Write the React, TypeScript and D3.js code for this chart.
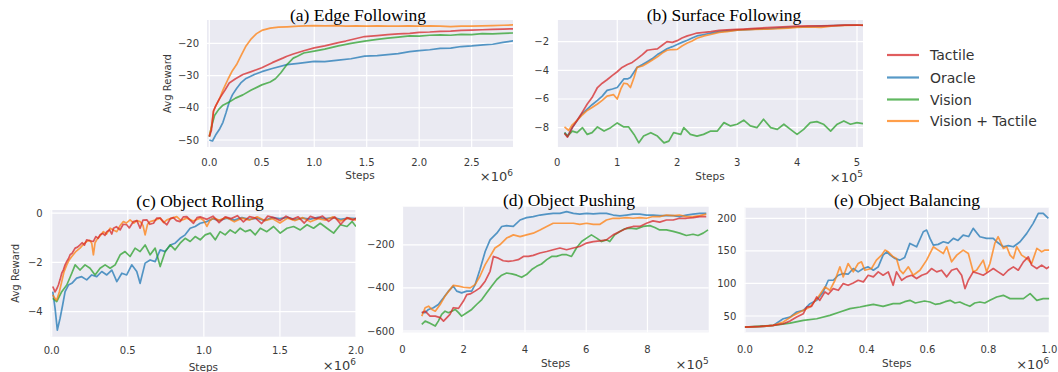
import * as d3 from 'd3';

type Pt = [number, number];

// ---- legend / series ----
const seriesNames = ['Tactile', 'Oracle', 'Vision', 'Vision + Tactile'];
const seriesColors = ['#d62728', '#1f77b4', '#2ca02c', '#ff7f0e'];

// ---- (a) Edge Following, x in 1e6 steps ----
const edgeTactile: Pt[] = [[0,-49],[0.02,-47],[0.04,-41],[0.06,-39.5],[0.1,-37],[0.15,-34.5],[0.19,-32.3],[0.25,-31],[0.32,-29.7],[0.4,-28.8],[0.5,-27.6],[0.6,-26],[0.7,-24.6],[0.74,-24],[0.8,-23.3],[0.9,-22.3],[1.0,-21.4],[1.1,-20.8],[1.23,-19.8],[1.3,-19.3],[1.4,-18.5],[1.48,-17.9],[1.6,-17.6],[1.7,-17.3],[1.8,-17.1],[1.91,-16.9],[2.0,-16.6],[2.1,-16.5],[2.2,-16.3],[2.3,-16.2],[2.4,-16.0],[2.5,-15.9],[2.6,-15.8],[2.7,-15.7],[2.8,-15.6],[2.9,-15.5]];
const edgeOracle: Pt[] = [[0,-50],[0.03,-50.3],[0.065,-48.2],[0.1,-46.5],[0.13,-44.5],[0.16,-41.5],[0.19,-38.2],[0.22,-36],[0.26,-34],[0.3,-32.3],[0.35,-30.9],[0.42,-29.8],[0.5,-28.8],[0.6,-27.8],[0.74,-26.6],[0.85,-26.2],[1.0,-25.6],[1.1,-25.7],[1.23,-25.2],[1.35,-24.8],[1.48,-24],[1.6,-23.8],[1.7,-23.5],[1.8,-23.2],[1.91,-22.6],[2.0,-22.3],[2.1,-22.0],[2.2,-21.6],[2.3,-21.5],[2.4,-21.0],[2.5,-20.8],[2.61,-20.5],[2.7,-20.3],[2.8,-19.7],[2.9,-19.2]];
const edgeVision: Pt[] = [[0,-49],[0.02,-46],[0.05,-42.4],[0.09,-40.5],[0.13,-39.2],[0.19,-38.2],[0.25,-37],[0.32,-36],[0.4,-34.5],[0.5,-32.9],[0.58,-32],[0.63,-31],[0.68,-29.2],[0.74,-26.6],[0.8,-24.6],[0.84,-24],[0.9,-23],[1.0,-22.4],[1.1,-21.8],[1.23,-20.8],[1.35,-20],[1.48,-19.3],[1.6,-18.8],[1.7,-18.4],[1.8,-18.1],[1.91,-17.7],[2.0,-17.8],[2.1,-17.5],[2.2,-17.4],[2.3,-17.5],[2.4,-17.2],[2.5,-17.3],[2.6,-17.0],[2.7,-17.1],[2.8,-16.9],[2.9,-16.8]];
const edgeVisionTactile: Pt[] = [[0,-48.8],[0.02,-46],[0.04,-41],[0.065,-39.2],[0.1,-37],[0.13,-34.5],[0.18,-31],[0.22,-28.5],[0.26,-26.6],[0.3,-24],[0.35,-20.8],[0.4,-18.6],[0.45,-17],[0.5,-16],[0.58,-15.3],[0.66,-15],[0.74,-14.9],[0.85,-14.7],[1.0,-14.5],[1.1,-14.6],[1.2,-14.5],[1.3,-14.7],[1.4,-14.6],[1.5,-14.7],[1.6,-14.6],[1.7,-14.7],[1.8,-14.7],[1.9,-14.6],[2.0,-14.7],[2.1,-14.6],[2.2,-14.7],[2.3,-14.8],[2.4,-14.7],[2.5,-14.7],[2.6,-14.6],[2.7,-14.5],[2.8,-14.4],[2.9,-14.3]];

// ---- (b) Surface Following, x in 1e5 steps ----
const surfTactile: Pt[] = [[0.12,-8.4],[0.17,-8.66],[0.25,-8.0],[0.33,-7.5],[0.42,-6.9],[0.5,-6.35],[0.58,-5.9],[0.67,-5.2],[0.75,-4.9],[0.83,-4.66],[0.92,-4.35],[1.0,-4.1],[1.08,-3.8],[1.17,-3.6],[1.25,-3.45],[1.33,-3.2],[1.42,-2.9],[1.5,-2.6],[1.58,-2.55],[1.67,-2.5],[1.75,-2.25],[1.83,-2.0],[1.92,-2.05],[2.0,-1.93],[2.08,-1.75],[2.17,-1.6],[2.25,-1.5],[2.33,-1.4],[2.45,-1.35],[2.56,-1.3],[2.7,-1.22],[2.83,-1.18],[3.0,-1.15],[3.1,-1.13],[3.3,-1.08],[3.5,-1.02],[3.67,-0.99],[3.85,-0.95],[4.0,-0.92],[4.2,-0.9],[4.4,-0.9],[4.6,-0.88],[4.8,-0.85],[5.0,-0.84],[5.1,-0.86]];
const surfOracle: Pt[] = [[0.12,-8.35],[0.17,-8.6],[0.25,-8.0],[0.33,-7.5],[0.42,-7.0],[0.5,-6.7],[0.58,-6.4],[0.67,-6.1],[0.75,-5.8],[0.83,-5.4],[0.92,-5.3],[1.0,-5.2],[1.11,-4.6],[1.17,-4.6],[1.22,-4.5],[1.33,-3.8],[1.42,-3.6],[1.5,-3.4],[1.58,-3.2],[1.67,-2.9],[1.75,-2.7],[1.83,-2.5],[1.92,-2.35],[2.0,-2.2],[2.08,-2.05],[2.17,-1.9],[2.25,-1.75],[2.33,-1.6],[2.45,-1.5],[2.56,-1.4],[2.7,-1.3],[2.83,-1.25],[3.0,-1.2],[3.1,-1.18],[3.3,-1.12],[3.5,-1.1],[3.67,-1.06],[3.85,-1.0],[4.0,-0.98],[4.2,-0.95],[4.4,-0.92],[4.6,-0.88],[4.8,-0.85],[5.0,-0.84],[5.1,-0.85]];
const surfVision: Pt[] = [[0.12,-8.35],[0.17,-8.59],[0.25,-8.24],[0.33,-8.35],[0.42,-8.0],[0.5,-8.47],[0.58,-8.35],[0.67,-7.95],[0.78,-8.24],[0.89,-8.0],[1.0,-7.67],[1.11,-7.95],[1.19,-7.95],[1.28,-8.47],[1.36,-9.06],[1.44,-8.59],[1.56,-8.35],[1.67,-8.59],[1.78,-9.06],[1.86,-8.94],[1.94,-8.35],[2.06,-8.47],[2.11,-8.0],[2.22,-8.47],[2.33,-8.59],[2.44,-8.47],[2.56,-8.24],[2.67,-8.24],[2.78,-7.65],[2.89,-7.88],[3.0,-7.76],[3.11,-7.48],[3.22,-7.88],[3.33,-8.0],[3.44,-7.41],[3.56,-8.0],[3.67,-8.12],[3.78,-7.76],[3.89,-8.12],[4.0,-8.47],[4.11,-8.12],[4.22,-7.65],[4.33,-7.58],[4.44,-7.76],[4.56,-8.24],[4.67,-7.76],[4.78,-7.53],[4.89,-7.76],[5.0,-7.65],[5.1,-7.72]];
const surfVisionTactile: Pt[] = [[0.12,-7.95],[0.19,-8.2],[0.25,-7.8],[0.33,-7.5],[0.42,-7.1],[0.5,-6.8],[0.58,-6.6],[0.67,-6.35],[0.75,-6.1],[0.83,-5.8],[0.94,-5.7],[1.0,-6.0],[1.06,-5.3],[1.11,-4.9],[1.17,-4.95],[1.22,-5.2],[1.28,-4.5],[1.33,-3.8],[1.42,-3.7],[1.5,-3.5],[1.58,-3.3],[1.67,-3.06],[1.75,-2.8],[1.83,-2.6],[1.92,-2.55],[2.0,-2.54],[2.08,-2.3],[2.17,-2.1],[2.25,-1.95],[2.33,-1.76],[2.45,-1.6],[2.56,-1.5],[2.7,-1.35],[2.83,-1.3],[3.0,-1.2],[3.1,-1.18],[3.3,-1.15],[3.5,-1.12],[3.67,-1.1],[3.85,-1.05],[4.0,-1.0],[4.2,-0.98],[4.4,-1.0],[4.5,-0.95],[4.6,-0.9],[4.8,-0.86],[5.0,-0.85],[5.1,-0.85]];

// ---- (c) Object Rolling, x in 1e6 steps ----
const rollTactile: Pt[] = [[0.007,-2.98],[0.022,-3.2],[0.035,-3.05],[0.044,-2.92],[0.055,-2.7],[0.066,-2.44],[0.077,-2.3],[0.088,-2.1],[0.1,-1.95],[0.11,-1.85],[0.121,-1.69],[0.135,-1.62],[0.154,-1.42],[0.17,-1.38],[0.186,-1.29],[0.2,-1.2],[0.215,-1.3],[0.23,-1.08],[0.25,-1.12],[0.274,-1.15],[0.29,-0.95],[0.305,-1.02],[0.318,-0.88],[0.335,-0.82],[0.35,-0.9],[0.362,-0.75],[0.38,-0.68],[0.395,-0.85],[0.406,-0.61],[0.425,-0.55],[0.45,-0.68],[0.47,-0.45],[0.493,-0.47],[0.51,-0.6],[0.537,-0.34],[0.56,-0.3],[0.581,-0.61],[0.6,-0.28],[0.625,-0.27],[0.645,-0.45],[0.669,-0.41],[0.69,-0.2],[0.713,-0.2],[0.735,-0.35],[0.757,-0.47],[0.78,-0.22],[0.8,-0.18],[0.82,-0.3],[0.844,-0.34],[0.865,-0.15],[0.888,-0.14],[0.91,-0.28],[0.932,-0.41],[0.955,-0.18],[0.976,-0.15],[1.02,-0.25],[1.06,-0.12],[1.1,-0.38],[1.14,-0.15],[1.18,-0.22],[1.22,-0.1],[1.26,-0.35],[1.3,-0.14],[1.34,-0.2],[1.38,-0.42],[1.42,-0.12],[1.46,-0.18],[1.5,-0.3],[1.54,-0.12],[1.58,-0.25],[1.62,-0.15],[1.66,-0.4],[1.7,-0.13],[1.74,-0.22],[1.78,-0.12],[1.82,-0.33],[1.86,-0.15],[1.9,-0.45],[1.94,-0.18],[1.98,-0.28],[2.0,-0.2]];
const rollOracle: Pt[] = [[0.007,-3.19],[0.022,-3.86],[0.037,-4.75],[0.055,-4.27],[0.072,-3.73],[0.088,-3.19],[0.11,-2.92],[0.132,-2.85],[0.164,-2.64],[0.197,-2.58],[0.23,-2.71],[0.263,-2.51],[0.296,-2.58],[0.329,-2.37],[0.362,-2.51],[0.395,-2.31],[0.428,-2.78],[0.461,-2.44],[0.493,-2.51],[0.526,-2.1],[0.559,-2.37],[0.581,-2.85],[0.614,-2.03],[0.647,-1.9],[0.68,-1.97],[0.713,-1.49],[0.746,-1.56],[0.779,-1.29],[0.811,-1.22],[0.844,-1.02],[0.877,-0.88],[0.91,-0.61],[0.943,-0.54],[0.976,-0.41],[1.02,-0.34],[1.06,-0.22],[1.1,-0.3],[1.15,-0.2],[1.2,-0.28],[1.25,-0.18],[1.3,-0.25],[1.35,-0.2],[1.4,-0.3],[1.45,-0.18],[1.5,-0.22],[1.55,-0.17],[1.6,-0.26],[1.65,-0.2],[1.7,-0.24],[1.75,-0.17],[1.8,-0.22],[1.85,-0.18],[1.9,-0.25],[1.95,-0.2],[2.0,-0.22]];
const rollVision: Pt[] = [[0.007,-3.46],[0.033,-3.59],[0.066,-3.19],[0.099,-2.92],[0.132,-2.44],[0.154,-2.1],[0.186,-2.31],[0.219,-2.1],[0.252,-2.24],[0.285,-2.51],[0.318,-2.24],[0.351,-2.1],[0.384,-2.24],[0.417,-2.1],[0.45,-1.69],[0.482,-1.56],[0.515,-1.76],[0.548,-1.42],[0.581,-1.56],[0.614,-1.29],[0.647,-1.69],[0.68,-1.42],[0.713,-2.17],[0.746,-1.56],[0.779,-1.29],[0.811,-1.49],[0.844,-1.22],[0.877,-1.02],[0.91,-1.15],[0.943,-0.95],[0.976,-1.08],[1.009,-0.88],[1.042,-0.81],[1.075,-1.08],[1.107,-0.75],[1.14,-0.88],[1.173,-0.68],[1.206,-0.81],[1.239,-0.61],[1.272,-0.75],[1.305,-0.68],[1.338,-0.88],[1.371,-0.61],[1.414,-0.75],[1.458,-0.54],[1.502,-0.81],[1.546,-0.61],[1.59,-0.54],[1.634,-0.68],[1.678,-0.47],[1.721,-0.61],[1.765,-0.41],[1.809,-0.61],[1.853,-0.81],[1.897,-0.47],[1.941,-0.54],[1.974,-0.34],[2.0,-0.54]];
const rollVisionTactile: Pt[] = [[0.007,-3.32],[0.02,-3.45],[0.033,-3.53],[0.05,-3.2],[0.066,-2.78],[0.08,-2.4],[0.099,-2.1],[0.115,-1.9],[0.132,-1.76],[0.16,-1.55],[0.186,-1.42],[0.21,-1.25],[0.23,-1.15],[0.25,-1.1],[0.263,-1.22],[0.274,-1.69],[0.285,-1.2],[0.296,-1.08],[0.32,-0.9],[0.34,-0.75],[0.36,-0.85],[0.384,-0.61],[0.405,-0.68],[0.428,-0.75],[0.45,-0.5],[0.471,-0.34],[0.49,-0.4],[0.515,-0.27],[0.54,-0.4],[0.56,-0.3],[0.581,-0.34],[0.6,-0.5],[0.614,-0.88],[0.63,-0.45],[0.647,-0.34],[0.68,-0.28],[0.713,-0.2],[0.735,-0.38],[0.757,-0.27],[0.79,-0.2],[0.822,-0.14],[0.85,-0.3],[0.888,-0.2],[0.93,-0.32],[0.976,-0.2],[1.0,-0.3],[1.02,-0.54],[1.04,-0.3],[1.064,-0.2],[1.1,-0.28],[1.15,-0.18],[1.2,-0.35],[1.25,-0.2],[1.3,-0.28],[1.35,-0.15],[1.4,-0.3],[1.45,-0.22],[1.5,-0.4],[1.55,-0.2],[1.6,-0.3],[1.65,-0.18],[1.7,-0.35],[1.75,-0.22],[1.8,-0.28],[1.85,-0.15],[1.9,-0.32],[1.95,-0.2],[2.0,-0.28]];

// ---- (d) Object Pushing, x in 1e5 steps ----
const pushTactile: Pt[] = [[0.63,-515],[0.74,-508],[0.9,-531],[1.07,-531],[1.23,-538],[1.34,-554],[1.45,-538],[1.55,-523],[1.66,-492],[1.83,-495],[1.99,-461],[2.1,-431],[2.21,-428],[2.37,-415],[2.53,-400],[2.7,-369],[2.86,-323],[2.97,-254],[3.13,-262],[3.29,-274],[3.46,-277],[3.62,-274],[3.78,-269],[3.95,-254],[4.11,-254],[4.27,-249],[4.49,-238],[4.71,-231],[4.92,-223],[5.14,-215],[5.36,-223],[5.58,-215],[5.79,-208],[6.01,-192],[6.23,-185],[6.45,-182],[6.66,-177],[6.88,-154],[7.1,-138],[7.32,-123],[7.53,-115],[7.75,-115],[7.97,-100],[8.18,-89],[8.4,-95],[8.62,-85],[8.84,-85],[9.05,-77],[9.27,-77],[9.49,-74],[9.71,-69],[9.92,-69]];
const pushOracle: Pt[] = [[0.63,-515],[0.74,-515],[0.85,-500],[1.01,-492],[1.17,-477],[1.34,-446],[1.5,-415],[1.66,-392],[1.77,-415],[1.93,-423],[2.1,-415],[2.26,-415],[2.37,-385],[2.53,-315],[2.7,-231],[2.86,-177],[3.08,-146],[3.24,-115],[3.4,-111],[3.62,-115],[3.84,-85],[4.05,-74],[4.27,-69],[4.49,-62],[4.71,-58],[4.92,-54],[5.14,-54],[5.36,-46],[5.58,-54],[5.79,-58],[6.01,-54],[6.23,-57],[6.45,-54],[6.66,-54],[6.88,-62],[7.1,-66],[7.32,-62],[7.53,-58],[7.75,-58],[7.97,-62],[8.18,-62],[8.4,-65],[8.62,-65],[8.84,-65],[9.05,-69],[9.27,-62],[9.49,-58],[9.71,-54],[9.92,-54]];
const pushVision: Pt[] = [[0.63,-569],[0.74,-554],[0.85,-561],[0.96,-569],[1.07,-577],[1.17,-554],[1.28,-523],[1.39,-508],[1.5,-515],[1.61,-508],[1.72,-500],[1.83,-515],[1.93,-531],[2.1,-515],[2.26,-500],[2.42,-477],[2.59,-454],[2.75,-423],[2.91,-392],[3.08,-361],[3.24,-341],[3.4,-331],[3.57,-335],[3.73,-341],[3.89,-351],[4.05,-338],[4.22,-315],[4.38,-300],[4.54,-289],[4.71,-269],[4.87,-254],[5.03,-254],[5.2,-246],[5.36,-246],[5.52,-254],[5.68,-215],[5.85,-185],[6.01,-169],[6.17,-154],[6.34,-169],[6.5,-185],[6.66,-177],[6.77,-185],[6.93,-154],[7.1,-138],[7.26,-126],[7.42,-123],[7.64,-126],[7.86,-115],[8.08,-111],[8.24,-120],[8.4,-131],[8.62,-131],[8.84,-138],[9.05,-146],[9.27,-157],[9.49,-151],[9.65,-157],[9.82,-146],[9.98,-131]];
const pushVisionTactile: Pt[] = [[0.63,-531],[0.74,-492],[0.85,-485],[0.96,-500],[1.07,-508],[1.23,-477],[1.39,-438],[1.55,-408],[1.66,-388],[1.83,-392],[1.99,-397],[2.21,-400],[2.37,-385],[2.53,-346],[2.7,-292],[2.86,-254],[3.02,-215],[3.18,-200],[3.4,-169],[3.62,-154],[3.84,-162],[4.05,-154],[4.27,-146],[4.49,-131],[4.71,-115],[4.92,-100],[5.14,-100],[5.36,-100],[5.58,-100],[5.79,-105],[6.01,-100],[6.23,-105],[6.45,-105],[6.66,-85],[6.88,-77],[7.1,-77],[7.32,-74],[7.53,-77],[7.75,-74],[7.97,-77],[8.18,-69],[8.4,-69],[8.62,-62],[8.84,-65],[9.05,-62],[9.27,-69],[9.49,-69],[9.71,-65],[9.92,-58]];

// ---- (e) Object Balancing, x in 1e6 steps ----
const balTactile: Pt[] = [[0,33],[0.049,34],[0.093,35.6],[0.126,38.1],[0.148,42.2],[0.17,48.4],[0.192,53.5],[0.203,63.8],[0.219,64.9],[0.236,79.2],[0.246,74.1],[0.263,87],[0.274,83.4],[0.29,92.1],[0.307,89.5],[0.323,99.8],[0.339,97.2],[0.356,100.8],[0.372,104.9],[0.389,102.4],[0.405,112.6],[0.422,110.1],[0.438,117.8],[0.454,112.6],[0.471,117.8],[0.487,97.2],[0.498,117.8],[0.515,104.9],[0.531,110.1],[0.548,112.6],[0.564,107.5],[0.581,112.6],[0.597,115.2],[0.613,122.9],[0.63,117.8],[0.646,120.3],[0.663,110.1],[0.679,120.3],[0.696,122.9],[0.712,112.6],[0.723,92.1],[0.734,104.9],[0.75,117.8],[0.767,115.2],[0.783,112.6],[0.8,117.8],[0.816,122.9],[0.832,117.8],[0.849,112.6],[0.865,120.3],[0.882,125.5],[0.898,120.3],[0.915,133.2],[0.931,140.9],[0.942,128.1],[0.959,122.9],[0.975,128.1],[0.991,122.9],[1.0,125.5]];
const balOracle: Pt[] = [[0,33],[0.05,33.5],[0.093,35.6],[0.126,45.8],[0.148,48.4],[0.17,56.1],[0.192,58.7],[0.214,69],[0.236,74.1],[0.257,87],[0.274,104.9],[0.29,104.9],[0.307,112.6],[0.323,115.2],[0.339,114.2],[0.356,122.9],[0.372,117.8],[0.389,122.9],[0.405,125.5],[0.422,120.3],[0.438,125.5],[0.454,143.5],[0.466,148.6],[0.477,143.5],[0.493,138.3],[0.509,135.8],[0.525,140],[0.542,161.5],[0.564,156.3],[0.586,179.4],[0.597,182],[0.608,169.2],[0.619,158.9],[0.635,160],[0.652,164],[0.668,162],[0.685,169.2],[0.7,166],[0.717,174.3],[0.735,172],[0.75,184.6],[0.772,171.7],[0.794,169.2],[0.816,169.2],[0.827,164],[0.849,156.3],[0.865,158],[0.882,156.3],[0.904,164],[0.926,176.9],[0.947,192.3],[0.964,207.7],[0.98,207.7],[0.997,200]];
const balVision: Pt[] = [[0,33],[0.093,35.6],[0.148,39.2],[0.192,43.3],[0.236,45.8],[0.279,51],[0.312,56.1],[0.345,61.3],[0.378,63.8],[0.4,66],[0.422,67.9],[0.454,64.9],[0.487,69],[0.509,69],[0.525,72],[0.542,74.1],[0.56,70],[0.575,71.5],[0.59,73],[0.608,71.5],[0.625,68],[0.641,69],[0.658,72],[0.674,74.1],[0.69,70],[0.706,71.5],[0.722,68],[0.739,64.9],[0.755,70],[0.772,71.5],[0.788,70],[0.805,74.1],[0.827,79.2],[0.849,81.8],[0.871,76.7],[0.893,76.7],[0.915,76.7],[0.937,84.4],[0.959,74.1],[0.98,76.7],[1.0,76.7]];
const balVisionTactile: Pt[] = [[0,33],[0.05,33.5],[0.093,35.6],[0.126,40.7],[0.159,51],[0.192,58.7],[0.214,63.8],[0.241,79.2],[0.263,94.7],[0.279,89.5],[0.296,104.9],[0.312,125.5],[0.323,110.1],[0.339,130.6],[0.356,117.8],[0.372,130.6],[0.383,133.2],[0.394,120.3],[0.416,122.9],[0.432,135.8],[0.449,143.5],[0.46,151.2],[0.471,148.6],[0.487,140.9],[0.498,138.3],[0.509,120.3],[0.52,115.2],[0.537,125.5],[0.553,112.6],[0.575,120.3],[0.597,135.8],[0.619,156.3],[0.635,151.2],[0.652,146],[0.663,156.3],[0.679,133.2],[0.696,143.5],[0.717,151.2],[0.734,146],[0.75,117.8],[0.761,120.3],[0.783,135.8],[0.794,117.8],[0.805,130.6],[0.821,161.5],[0.832,171.7],[0.849,153.8],[0.86,156.3],[0.871,143.5],[0.882,138.3],[0.893,156.3],[0.909,143.5],[0.926,138.3],[0.942,130.6],[0.959,153.8],[0.975,148.6],[0.986,151.2],[1.0,151.2]];

// ---- tick values ----
const edgeXTicks = [0, 0.5, 1.0, 1.5, 2.0, 2.5];
const edgeYTicks = [-50, -40, -30, -20];
const surfXTicks = [0, 1, 2, 3, 4, 5];
const surfYTicks = [-8, -6, -4, -2];
const rollXTicks = [0, 0.5, 1.0, 1.5, 2.0];
const rollYTicks = [-4, -2, 0];
const pushXTicks = [0, 2, 4, 6, 8];
const pushYTicks = [-600, -400, -200];
const balXTicks = [0, 0.2, 0.4, 0.6, 0.8, 1.0];
const balYTicks = [50, 100, 150, 200];

const minus = (s: string) => s.replace('-', '\u2212');
const f1 = (v: number) => minus(v.toFixed(1));
const f0 = (v: number) => minus(String(v));

interface PanelSpec {
  title: string;
  titleX: number;
  titleY: number;
  box: { l: number; r: number; t: number; b: number };
  xDomain: [number, number];
  yDomain: [number, number];
  xTicks: number[];
  yTicks: number[];
  xFmt: (v: number) => string;
  yFmt: (v: number) => string;
  exp: string;
  ylabel: boolean;
  yLabX: number;
  tickY: number;
  stepsY: number;
  expY: number;
  series: Pt[][]; // order: tactile, oracle, vision, vision+tactile
}

const panels: PanelSpec[] = [
  { title: '(a) Edge Following', titleX: 358, titleY: 21, box: { l: 207, r: 513, t: 20, b: 147 },
    xDomain: [-0.022, 2.894], yDomain: [-52.17, -12.77], xTicks: edgeXTicks, yTicks: edgeYTicks,
    xFmt: f1, yFmt: f0, exp: '6', ylabel: true, yLabX: 171, tickY: 166, stepsY: 179, expY: 181,
    series: [edgeTactile, edgeOracle, edgeVision, edgeVisionTactile] },
  { title: '(b) Surface Following', titleX: 724, titleY: 21, box: { l: 557, r: 863, t: 20, b: 147 },
    xDomain: [-0.005, 5.1], yDomain: [-9.35, -0.49], xTicks: surfXTicks, yTicks: surfYTicks,
    xFmt: f0, yFmt: f0, exp: '5', ylabel: false, yLabX: 0, tickY: 166, stepsY: 179.5, expY: 181.5,
    series: [surfTactile, surfOracle, surfVision, surfVisionTactile] },
  { title: '(c) Object Rolling', titleX: 200, titleY: 206.5, box: { l: 50.7, r: 356, t: 210, b: 336.7 },
    xDomain: [-0.0066, 2.0], yDomain: [-5.02, 0.13], xTicks: rollXTicks, yTicks: rollYTicks,
    xFmt: f1, yFmt: f0, exp: '6', ylabel: true, yLabX: 19, tickY: 354, stepsY: 370.5, expY: 370,
    series: [rollTactile, rollOracle, rollVision, rollVisionTactile] },
  { title: '(d) Object Pushing', titleX: 569, titleY: 206, box: { l: 402.5, r: 708.7, t: 206.7, b: 332.3 },
    xDomain: [0, 10], yDomain: [-606, -23.3], xTicks: pushXTicks, yTicks: pushYTicks,
    xFmt: f0, yFmt: f0, exp: '5', ylabel: false, yLabX: 0, tickY: 353, stepsY: 366.5, expY: 369,
    series: [pushTactile, pushOracle, pushVision, pushVisionTactile] },
  { title: '(e) Object Balancing', titleX: 907, titleY: 206, box: { l: 744.3, r: 1049.3, t: 207.7, b: 332.3 },
    xDomain: [-0.002, 1.0], yDomain: [25, 216.3], xTicks: balXTicks, yTicks: balYTicks,
    xFmt: f1, yFmt: f0, exp: '6', ylabel: false, yLabX: 0, tickY: 353, stepsY: 366.5, expY: 369,
    series: [balTactile, balOracle, balVision, balVisionTactile] },
];

const drawOrder = [1, 2, 3, 0]; // tactile (red) on top
const tickFont = 'DejaVu Sans, Verdana, sans-serif';
const tickColor = '#3a3a3a';

function Panel({ p }: { p: PanelSpec }) {
  const { l, r, t, b } = p.box;
  const x = d3.scaleLinear().domain(p.xDomain).range([l, r]);
  const y = d3.scaleLinear().domain(p.yDomain).range([b, t]);
  const line = d3.line<Pt>().x((d) => x(d[0])).y((d) => y(d[1]));
  const clipId = 'clip' + p.title.slice(1, 2);
  return (
    <g>
      <rect x={l} y={t} width={r - l} height={b - t} fill="#eaeaf2" />
      {p.xTicks.map((v) => (
        <line key={'gx' + v} x1={x(v)} x2={x(v)} y1={t} y2={b} stroke="#fff" strokeWidth={1.2} />
      ))}
      {p.yTicks.map((v) => (
        <line key={'gy' + v} x1={l} x2={r} y1={y(v)} y2={y(v)} stroke="#fff" strokeWidth={1.2} />
      ))}
      <clipPath id={clipId}>
        <rect x={l} y={t} width={r - l} height={b - t} />
      </clipPath>
      <g clipPath={`url(#${clipId})`}>
        {drawOrder.map((i) => (
          <path key={i} d={line(p.series[i]) ?? ''} fill="none" stroke={seriesColors[i]}
            strokeWidth={1.7} strokeOpacity={0.75} strokeLinejoin="round" />
        ))}
      </g>
      {p.xTicks.map((v) => (
        <text key={'tx' + v} x={x(v)} y={p.tickY} textAnchor="middle" fontFamily={tickFont}
          fontSize={10} fill={tickColor}>{p.xFmt(v)}</text>
      ))}
      {p.yTicks.map((v) => (
        <text key={'ty' + v} x={l - 8} y={y(v) + 3.5} textAnchor="end" fontFamily={tickFont}
          fontSize={10} fill={tickColor}>{p.yFmt(v)}</text>
      ))}
      <text x={(l + r) / 2} y={p.stepsY} textAnchor="middle" fontFamily={tickFont} fontSize={10.5}
        fill={tickColor}>Steps</text>
      <text x={r} y={p.expY} textAnchor="end" fontFamily={tickFont} fontSize={13} fill={tickColor}>
        ×10<tspan fontSize={9} dy={-5}>{p.exp}</tspan>
      </text>
      {p.ylabel && (
        <text transform={`translate(${p.yLabX},${(t + b) / 2}) rotate(-90)`} textAnchor="middle"
          fontFamily={tickFont} fontSize={10} fill={tickColor}>Avg Reward</text>
      )}
      <text x={p.titleX} y={p.titleY} textAnchor="middle" fontFamily="Liberation Serif, Times New Roman, serif"
        fontSize={17.5} fill="#000">{p.title}</text>
    </g>
  );
}

export default function App() {
  const legendY = [55, 77.5, 99.5, 121];
  return (
    <svg width={1058} height={372} style={{ position: 'absolute', left: 0, top: 0, background: '#fff' }}>
      {panels.map((p) => <Panel key={p.title} p={p} />)}
      {seriesNames.map((name, i) => (
        <g key={name}>
          <line x1={887} x2={919} y1={legendY[i]} y2={legendY[i]} stroke={seriesColors[i]}
            strokeOpacity={0.75} strokeWidth={2.2} />
          <text x={930} y={legendY[i] + 5} fontFamily={tickFont} fontSize={14} fill="#333">{name}</text>
        </g>
      ))}
    </svg>
  );
}
